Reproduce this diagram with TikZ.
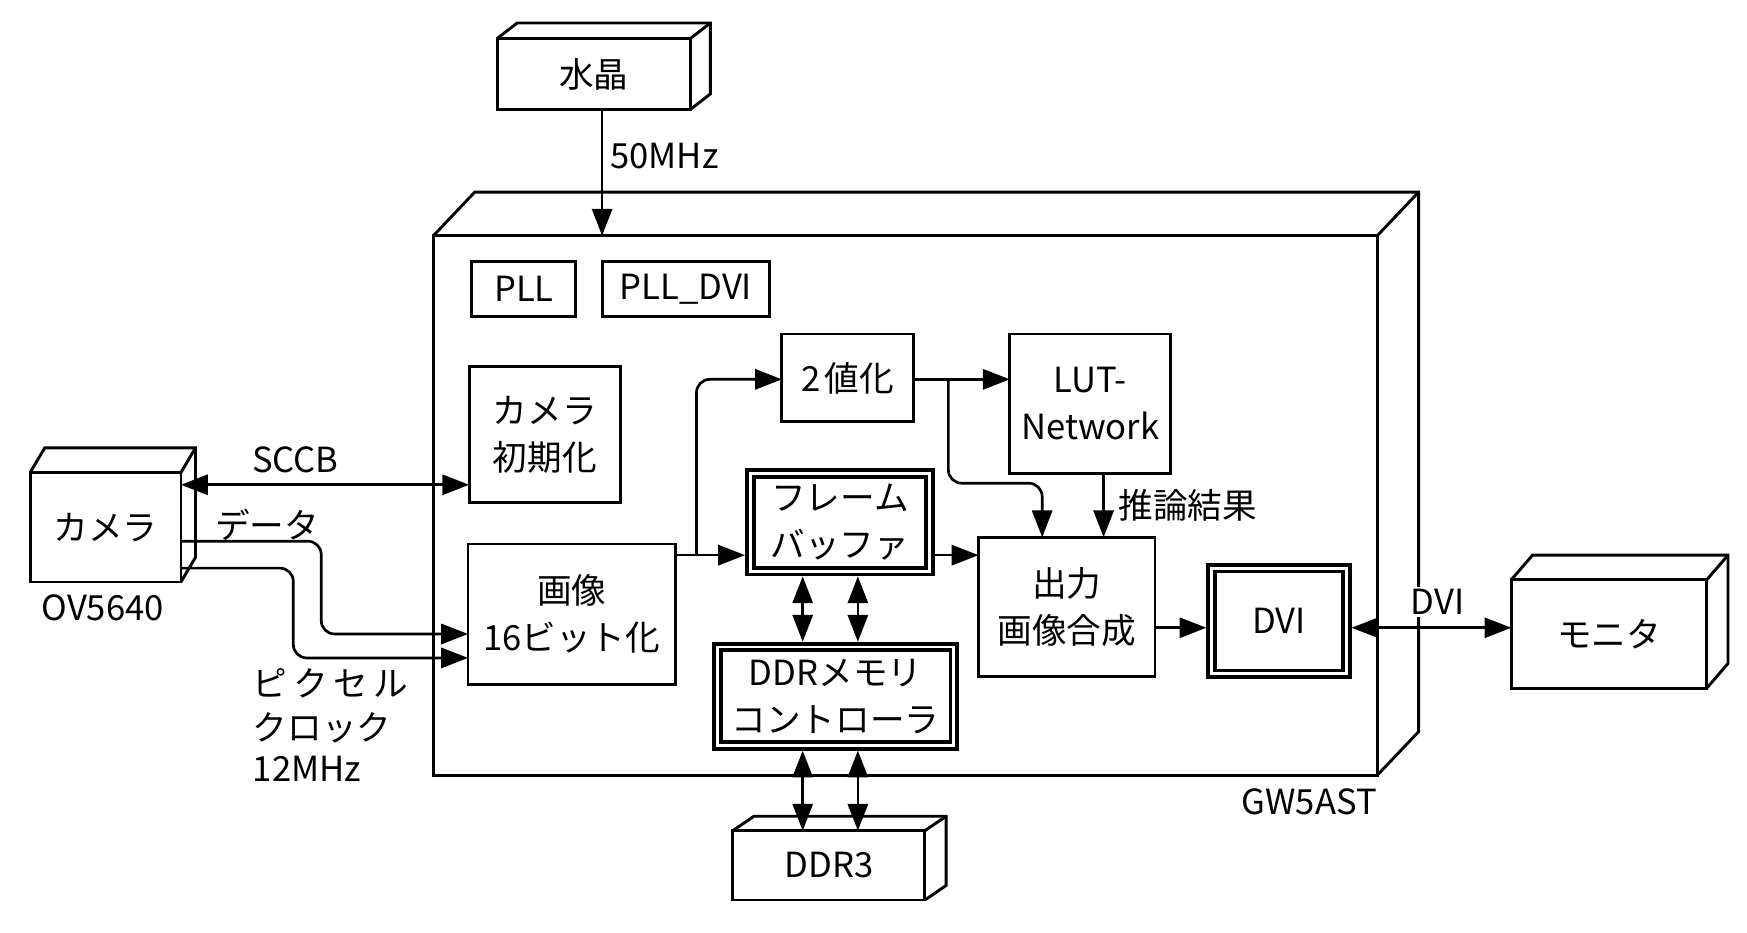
\documentclass[tikz,border=0pt]{standalone}
\usepackage{fontspec}
\setmainfont{Noto Sans CJK JP}
\usetikzlibrary{arrows.meta}
\newcommand\mycuboid[3]{%
  \draw[line width=1.3pt, line join=miter] (#1.north west) -- ++(#2,#3) -- ([shift={(#2,#3)}]#1.north east) -- ([shift={(#2,#3)}]#1.south east) -- (#1.south east);
  \draw[line width=1.3pt] (#1.north east) -- ++(#2,#3);}
\begin{document}
\begin{tikzpicture}[x=0.5pt,y=-0.5pt,
  every node/.style={font=\fontsize{15.5pt}{21pt}\selectfont, align=center},
  box/.style={draw, line width=1.3pt, inner sep=0pt, outer sep=0pt},
  dbox/.style={draw, line width=1.7pt, double, double distance=1.3pt, inner sep=0pt, outer sep=2.35pt},
  lbl/.style={inner sep=0pt},
  arr/.style={line width=1.2pt, -{Triangle[length=12pt,width=9pt]}},
  darr/.style={line width=1.2pt, {Triangle[length=12pt,width=9pt]}-{Triangle[length=12pt,width=9pt]}},
  rcorner/.style={rounded corners=6pt}]
\fill[white] (0,0) rectangle (1564,834.4);
\useasboundingbox (0,0) rectangle (1564,834.4);

% FPGA body
\node[box, minimum width=422.5pt, minimum height=241.5pt] (gw) at (810.5,452.5) {};
\mycuboid{gw}{37}{-39}

% external 3D boxes
\node[box, minimum width=86.5pt, minimum height=31.75pt] (xtal) at (531.5,66.3) {水晶};
\mycuboid{xtal}{18}{-14}
\node[box, minimum width=67.5pt, minimum height=49pt] (cam) at (94.5,472) {カメラ};
\mycuboid{cam}{13}{-22}
\node[box, minimum width=87.5pt, minimum height=48.5pt] (mon) at (1440.5,567.5) {モニタ};
\mycuboid{mon}{19}{-22}
\node[box, minimum width=86pt, minimum height=31pt] (ddr3) at (742,774.7) {DDR3};
\mycuboid{ddr3}{19}{-13}

% inner blocks
\node[box, minimum width=46.5pt, minimum height=24.5pt] (pll) at (469,258.5) {PLL};
\node[box, minimum width=75pt, minimum height=24.5pt] (plldvi) at (614,258.5) {PLL\_DVI};
\node[box, minimum width=67.75pt, minimum height=61pt] (init) at (487.75,389) {カメラ\\初期化};
\node[box, minimum width=59pt, minimum height=39.25pt] (bin) at (759,338.25) {2\kern1.5pt 値化};
\node[box, minimum width=72pt, minimum height=62.5pt] (lut) at (976,361.5) {LUT-\\Network};
\node[box, minimum width=92.75pt, minimum height=62.8pt] (img) at (511.75,549.8) {画像\\16ビット化};
\node[box, minimum width=79pt, minimum height=62.5pt] (out) at (955,543.5) {出力\\画像合成};
\node[dbox, minimum width=80.3pt, minimum height=43.8pt] (fb) at (752,467.5) {フレーム\\バッファ};
\node[dbox, minimum width=60.3pt, minimum height=47.3pt] (dvi) at (1145,556) {DVI};
\node[dbox, minimum width=105.85pt, minimum height=44.05pt] (ddrc) at (748,623.25) {DDRメモリ\\コントローラ};

% connectors
\draw[arr] (xtal.south -| 539,0) -- (gw.north -| 539,0);
\draw[darr] (cam.east |- 0,434) -- (init.west |- 0,434);
\draw[arr, rcorner] (cam.east |- 0,484.5) -- (287.6,484.5) -- (287.6,567.6) -- (img.west |- 0,567.6);
\draw[arr, rcorner] (cam.east |- 0,508.6) -- (262.6,508.6) -- (262.6,589) -- (img.west |- 0,589);
\draw[arr] (img.east |- 0,497) -- (fb.west |- 0,497);
\draw[arr, rcorner] (623.5,497) -- (623.5,339.6) -- (bin.west |- 0,339.6);
\draw[arr] (bin.east |- 0,339.6) -- (lut.west |- 0,339.6);
\draw[arr, rcorner] (849,339.6) -- (849,432.6) -- (933,432.6) -- (out.north -| 933,0);
\draw[arr] (lut.south -| 988,0) -- (out.north -| 988,0);
\draw[arr] (fb.east |- 0,497) -- (out.west |- 0,497);
\draw[arr] (out.east |- 0,562) -- (dvi.west |- 0,562);
\draw[darr] (dvi.east |- 0,562) -- (mon.west |- 0,562);
\draw[darr] (fb.south -| 718.6,0) -- (ddrc.north -| 718.6,0);
\draw[darr] (fb.south -| 768,0) -- (ddrc.north -| 768,0);
\draw[darr] (ddrc.south -| 718.6,0) -- (ddr3.north -| 718.6,0);
\draw[darr] (ddrc.south -| 768,0) -- (ddr3.north -| 768,0);

% labels
\node[lbl, anchor=west] (l50) at (546,140) {50MHz};
\node[lbl] (lsccb) at (264.5,412) {SCCB};
\node[lbl] (ldata) at (239,470) {データ};
\node[lbl] (lov) at (92,544) {OV5640};
\node[lbl, anchor=west] (lpix) at (226,611.6) {ピ\kern2.5pt ク\kern2.5pt セ\kern2.5pt ル};
\node[lbl, anchor=west] (lclk) at (226,652) {クロック};
\node[lbl, anchor=west] (l12) at (226,688) {12MHz};
\node[lbl, anchor=west] (linf) at (1001,452) {推論結果};
\node[fill=white, inner sep=1pt] (ldvi) at (1287,539) {DVI};
\node[lbl, anchor=east] (lgw) at (1233,718) {GW5AST};
\end{tikzpicture}
\end{document}
